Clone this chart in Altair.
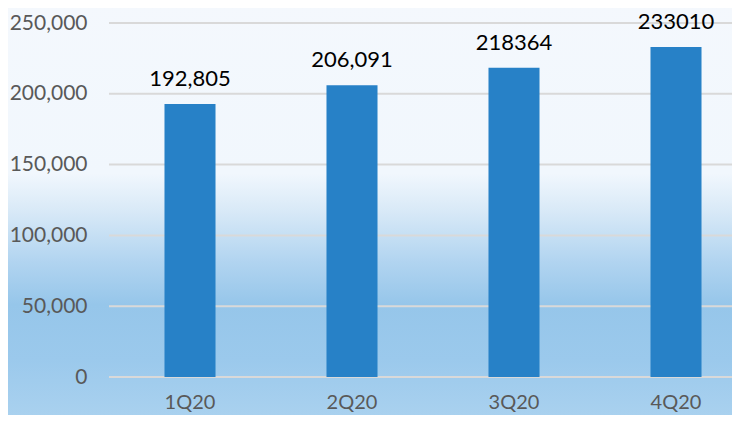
import altair as alt
import pandas as pd

# ---- data ----
quarters = ["1Q20", "2Q20", "3Q20", "4Q20"]
values = [192805, 206091, 218364, 233010]
labels = ["192,805", "206,091", "218364", "233010"]
tick_values = [0, 50000, 100000, 150000, 200000, 250000]

df = pd.DataFrame({"q": quarters, "v": values, "lab": labels})
grid_df = pd.DataFrame({"t": tick_values})
bg_df = pd.DataFrame({"a": [0]})

# ---- style ----
W, H = 623, 354
FONT = "Lato"
GRAY = "#595959"
BAR = "#2781c7"

bg_gradient = alt.LinearGradient(
    gradient="linear", x1=0, y1=0, x2=0, y2=1,
    stops=[
        alt.GradientStop(offset=0.0, color="#f4f8fd"),
        alt.GradientStop(offset=0.41, color="#f1f7fd"),
        alt.GradientStop(offset=0.50, color="#d8e9f7"),
        alt.GradientStop(offset=0.62, color="#b1d4f0"),
        alt.GradientStop(offset=0.72, color="#96c6ea"),
        alt.GradientStop(offset=0.85, color="#9bc9ec"),
        alt.GradientStop(offset=1.0, color="#abd2ef"),
    ],
)

y_scale = alt.Scale(domain=[0, 250000], nice=False, zero=True)
y_axis = alt.Axis(
    values=tick_values, labelExpr="format(datum.value, ',')", title=None,
    labelFont=FONT, labelFontSize=21, labelColor=GRAY, labelPadding=22,
    domain=False, ticks=False, grid=False, zindex=1,
)
x_enc = alt.X(
    "q:N", sort=quarters,
    scale=alt.Scale(range=[0, 648], paddingInner=0.685, paddingOuter=0.3425),
    axis=alt.Axis(
        title=None, labelAngle=0, labelFont=FONT, labelFontSize=20,
        labelColor=GRAY, labelPadding=15, domain=False, ticks=False,
        grid=False, zindex=1,
    ),
)

background = alt.Chart(bg_df).mark_rect(color=bg_gradient).encode(
    x=alt.value(-110), x2=alt.value(700), y=alt.value(-23), y2=alt.value(400)
)

grid = alt.Chart(grid_df).mark_rule(color="#d9d9d9", strokeWidth=2).encode(
    y=alt.Y("t:Q", scale=y_scale, axis=y_axis),
    x=alt.value(0), x2=alt.value(648),
)

bars = alt.Chart(df).mark_bar(color=BAR).encode(
    x=x_enc,
    y=alt.Y("v:Q", scale=y_scale, axis=y_axis),
)

text = alt.Chart(df).mark_text(
    font=FONT, fontSize=22, color="#000000", baseline="alphabetic", dy=-18
).encode(
    x=x_enc,
    y=alt.Y("v:Q", scale=y_scale, axis=y_axis),
    text="lab:N",
)

chart = alt.layer(background, grid, bars, text).properties(
    width=W, height=H,
    autosize=alt.AutoSizeParams(type="none"),
    padding={"left": 101, "top": 15, "right": 0, "bottom": 38},
).configure_view(stroke=None).configure(background="#f4f8fd")

chart.save("out.html", embed_options={"renderer": "svg", "actions": False})
